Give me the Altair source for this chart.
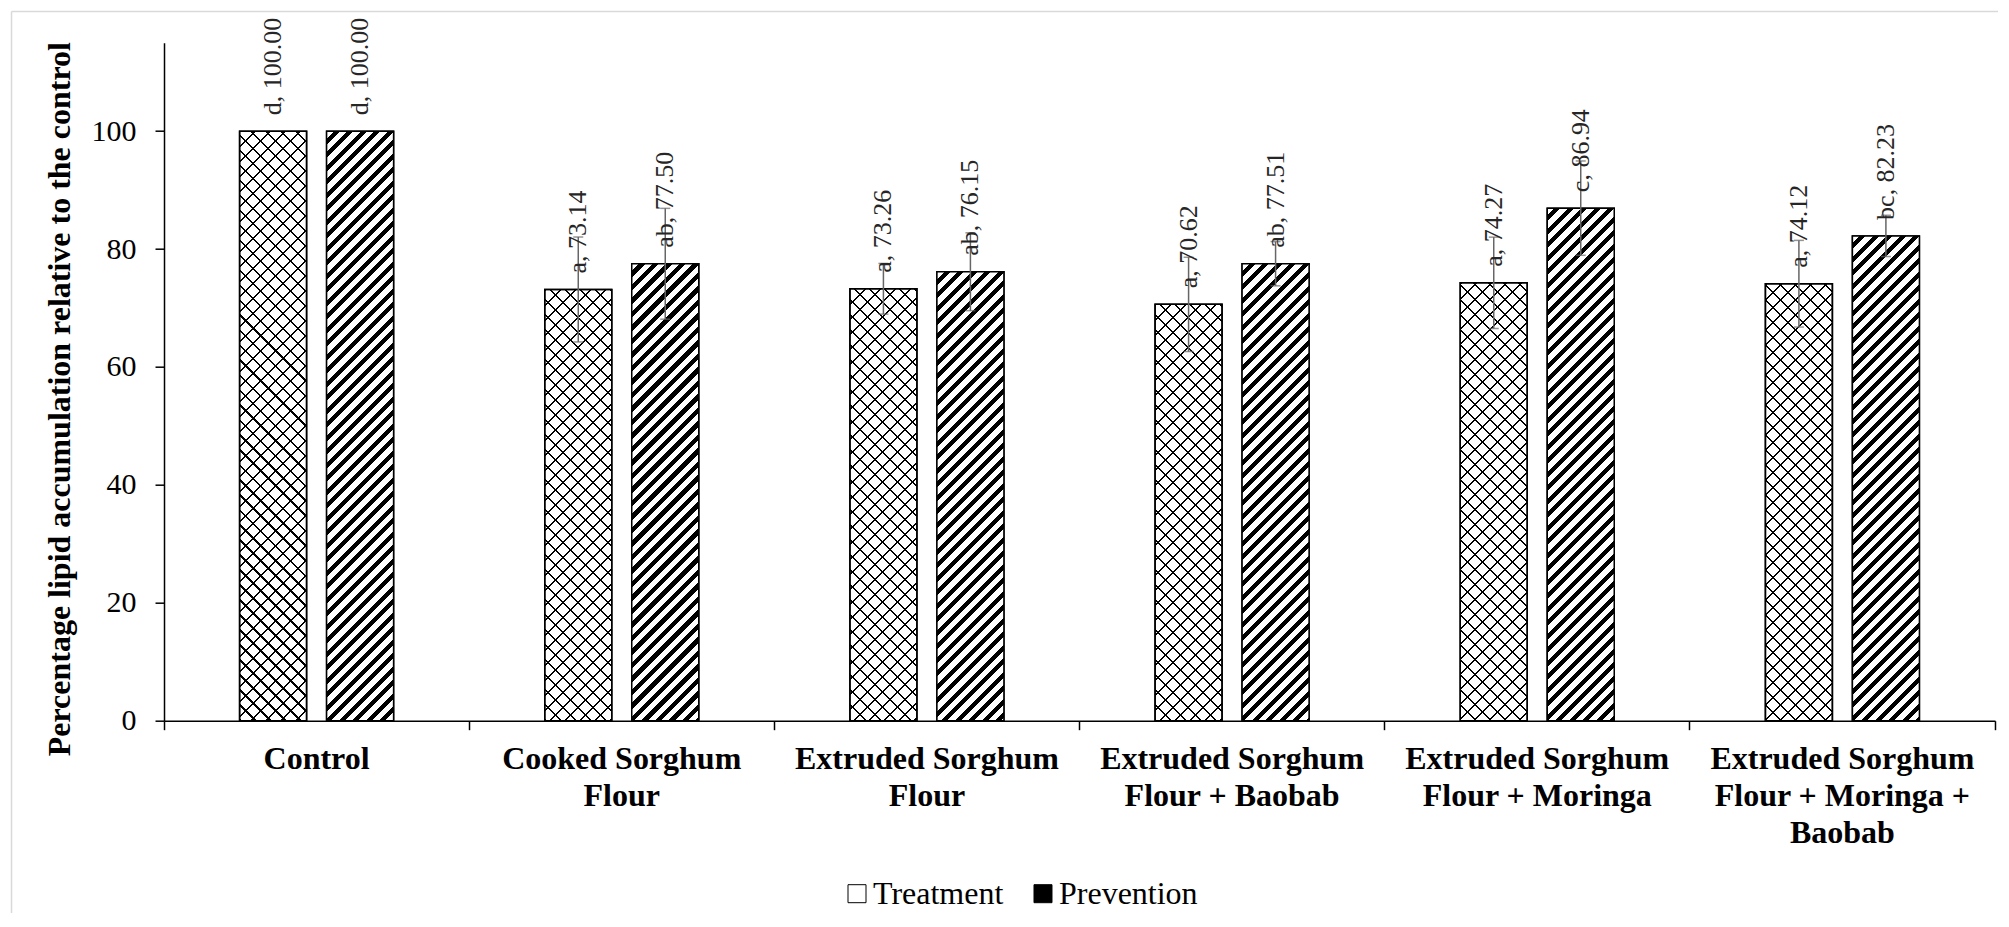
import math
import altair as alt

# ---------------- data ----------------
categories = [
    "Control",
    "Cooked Sorghum\nFlour",
    "Extruded Sorghum\nFlour",
    "Extruded Sorghum\nFlour + Baobab",
    "Extruded Sorghum\nFlour + Moringa",
    "Extruded Sorghum\nFlour + Moringa +\nBaobab",
]
series = ["Treatment", "Prevention"]
treatment_values = [100.00, 73.14, 73.26, 70.62, 74.27, 74.12]
prevention_values = [100.00, 77.50, 76.15, 77.51, 86.94, 82.23]
treatment_err = [0.0, 8.9, 4.3, 8.0, 7.75, 7.35]
prevention_err = [0.0, 9.4, 6.6, 3.75, 8.0, 3.5]
treatment_letters = ["d", "a", "a", "a", "a", "a"]
prevention_letters = ["d", "ab", "ab", "ab", "c", "bc"]
y_ticks = [0, 20, 40, 60, 80, 100]
y_title = "Percentage lipid accumulation relative to the control"

# ---------------- layout constants ----------------
Y_MAX = 115
PLOT_W, PLOT_H = 1831, 678
BAR_W = 67
FONT = "Liberation Serif"
TRANSPARENT = "rgba(0,0,0,0)"


def stripes(h, period, frac, on, off, direction):
    """Linear gradient (bounding-box units) giving 45-degree stripes on a bar."""
    w = BAR_W
    L = w + h
    k = L / (w * w + h * h)
    if direction == "/":
        x1, y1, x2, y2 = 0.0, 0.0, k * w, k * h
    else:
        x1, y1, x2, y2 = 0.0, 1.0, k * w, 1.0 - k * h
    stops = []
    i = 0
    while i * period < L:
        a = i * period / L
        b = min(1.0, (i + frac) * period / L)
        c = min(1.0, (i + 1) * period / L)
        stops += [
            {"offset": round(a, 5), "color": on},
            {"offset": round(b, 5), "color": on},
            {"offset": round(b, 5), "color": off},
            {"offset": round(c, 5), "color": off},
        ]
        i += 1
    return {"gradient": "linear", "x1": x1, "y1": y1,
            "x2": round(x2, 5), "y2": round(y2, 5), "stops": stops}


records = []
for s, vals, errs, lets in [
    ("Treatment", treatment_values, treatment_err, treatment_letters),
    ("Prevention", prevention_values, prevention_err, prevention_letters),
]:
    for cat, v, e, l in zip(categories, vals, errs, lets):
        h = v * PLOT_H / Y_MAX
        if s == "Treatment":
            g1 = stripes(h, 15, 0.14, "#000000", TRANSPARENT, "/")
            g2 = stripes(h, 15, 0.14, "#000000", TRANSPARENT, "\\")
        else:
            g1 = stripes(h, 13.5, 0.55, "#ffffff", TRANSPARENT, "/")
            g2 = TRANSPARENT
        records.append({
            "category": cat, "series": s, "value": v, "err": e,
            "lo": v - e, "hi": v + e, "label": f"{l}, {v:.2f}",
            "g1": g1, "g2": g2,
        })

# ---------------- encodings ----------------
x_axis = alt.Axis(
    title=None, labelAngle=0,
    labelExpr="isString(datum.value) ? split(datum.value, '\\n') : ''",
    labelFont=FONT, labelFontSize=32, labelFontWeight="bold", labelColor="black",
    labelLineHeight=37, labelPadding=14, labelBaseline="top", labelLimit=600,
    tickSize=9, tickColor="black", tickWidth=1.5,
    domainColor="black", domainWidth=1.5, bandPosition=1, tickExtra=True,
)
y_axis = alt.Axis(
    title=y_title, values=y_ticks, grid=False,
    titleFont=FONT, titleFontSize=32, titleFontWeight="bold", titleColor="black",
    titleX=-94.5, titleY=356, titleAngle=270, titleAlign="center",
    titleBaseline="alphabetic",
    labelFont=FONT, labelFontSize=30, labelColor="black", labelPadding=19,
    tickSize=9, tickColor="black", tickWidth=1.5,
    domainColor="black", domainWidth=1.5,
)
y_scale = alt.Scale(domain=[0, Y_MAX], nice=False, zero=True)

x_enc = alt.X("category:N", sort=categories,
              scale=alt.Scale(paddingInner=0, paddingOuter=0), axis=x_axis)
xo_enc = alt.XOffset("series:N", sort=series,
                     scale=alt.Scale(paddingInner=0.2299, paddingOuter=0.8688))


def y_enc(field):
    return alt.Y(f"{field}:Q", scale=y_scale, axis=y_axis, stack=None)


legend = alt.Legend(
    title=None, orient="none", legendX=677, legendY=835, direction="horizontal",
    symbolType="square", symbolSize=324, symbolStrokeColor="black",
    symbolStrokeWidth=1, labelFont=FONT, labelFontSize=32, labelColor="black",
    labelOffset=0, columnPadding=23, padding=0, rowPadding=0, labelLimit=0,
)

base = alt.Chart(alt.Data(values=records))

bars = base.mark_bar(stroke="black", strokeWidth=1.5).encode(
    x=x_enc, xOffset=xo_enc, y=y_enc("value"),
    color=alt.Color("series:N", sort=series,
                    scale=alt.Scale(domain=series, range=["#ffffff", "#000000"]),
                    legend=legend),
)
hatch1 = base.mark_bar().encode(
    x=x_enc, xOffset=xo_enc, y=y_enc("value"),
    fill=alt.Fill("g1:N", scale=None),
)
hatch2 = base.mark_bar(stroke="black", strokeWidth=1.5).encode(
    x=x_enc, xOffset=xo_enc, y=y_enc("value"),
    fill=alt.Fill("g2:N", scale=None),
)

err_base = base.transform_filter("datum.err > 0")
err_rules = err_base.mark_rule(color="#666666", strokeWidth=1.5).encode(
    x=x_enc, xOffset=xo_enc, y=y_enc("lo"), y2="hi:Q",
)
cap_lo = err_base.mark_tick(color="#666666", size=10, thickness=1.5).encode(
    x=x_enc, xOffset=xo_enc, y=y_enc("lo"),
)
cap_hi = err_base.mark_tick(color="#666666", size=10, thickness=1.5).encode(
    x=x_enc, xOffset=xo_enc, y=y_enc("hi"),
)

labels = base.mark_text(
    angle=270, align="left", baseline="middle", dx=16,
    font=FONT, fontSize=26, color="#262626",
).encode(x=x_enc, xOffset=xo_enc, y=y_enc("value"), text="label:N")

border_data = alt.Data(values=[{"k": 0}])
border_v = alt.Chart(border_data).mark_rule(color="#d9d9d9", strokeWidth=1.5).encode(
    x=alt.value(-152.5), y=alt.value(-31.2), y2=alt.value(880),
)
border_h = alt.Chart(border_data).mark_rule(color="#d9d9d9", strokeWidth=1.5).encode(
    x=alt.value(-152.5), x2=alt.value(1840), y=alt.value(-31.2),
)

chart = alt.layer(
    border_v, border_h, bars, hatch1, hatch2, err_rules, cap_lo, cap_hi, labels
).properties(
    width=PLOT_W, height=PLOT_H,
    autosize=alt.AutoSizeParams(type="none"),
    padding={"left": 156, "top": 34.7, "right": 3, "bottom": 192},
    background="white",
).configure_view(stroke=None)

chart.save("out.html", embed_options={"renderer": "svg", "actions": False})
